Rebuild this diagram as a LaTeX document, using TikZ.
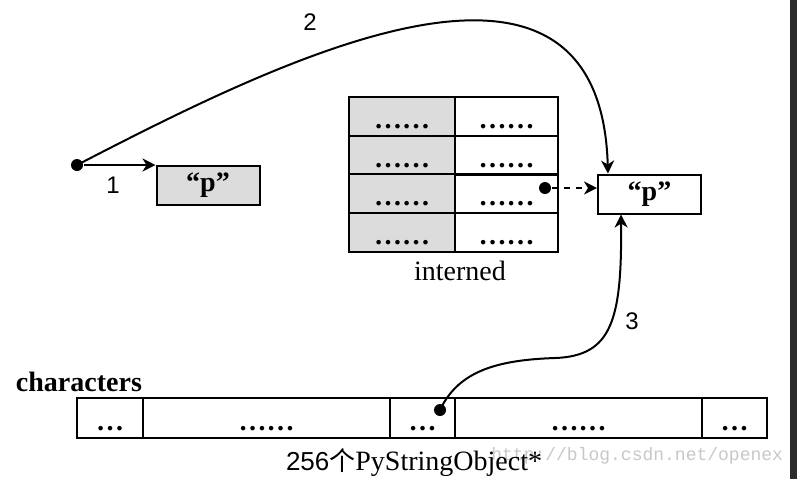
\documentclass[tikz,border=0pt]{standalone}
\usepackage{fontspec}
\setmainfont{Liberation Serif}
\setsansfont{Liberation Sans}
\setmonofont{Liberation Mono}
\newfontfamily\cjk{Noto Sans CJK SC}
\usepackage{tikz}
\usetikzlibrary{arrows.meta}
\definecolor{shade}{RGB}{220, 220, 220}
\definecolor{mark}{RGB}{200, 200, 200}
\definecolor{band}{RGB}{43, 43, 43}

\begin{document}
\begin{tikzpicture}[x=0.5pt, y=-0.5pt, line width=1pt,
  >={Stealth[length=6.5pt, width=6.5pt, inset=2pt]},
  box/.style={draw, minimum width=51.5pt, minimum height=19.5pt, inner sep=0pt,
    font=\fontsize{14}{16}\selectfont\bfseries},
  cell/.style={draw, inner sep=0pt, minimum height=19.5pt, text height=12pt,
    text depth=0pt, font=\fontsize{14}{16}\selectfont\bfseries},
  dot/.style={circle, fill, inner sep=0pt, minimum size=6pt},
  num/.style={font=\sffamily\fontsize{12}{14}\selectfont}]
  \useasboundingbox (0, 0) rectangle (797, 479);
  \fill [white] (0, 0) rectangle (797, 479);
  \fill [band] (790, 0) rectangle (797, 479);

  % the interned table
  \foreach \r in {1,...,4} {
    \node [cell, fill=shade, minimum width=53pt] (k\r) at (402, 77.6+38.75*\r) {……};
    \node [cell, minimum width=51.5pt] (v\r) at (506.5, 77.6+38.75*\r) {……};
  }
  \node [font=\fontsize{14}{16}\selectfont, anchor=base] (interned) at (460, 280) {interned};

  % the two strings
  \node [box, fill=shade] (p1) at (208, 185.5) {“p”};
  \node [box] (p2) at (649.5, 194) {“p”};

  % the characters array
  \node [cell, minimum width=33pt, minimum height=20pt] (c1) at (110, 418) {…};
  \node [cell, minimum width=123.5pt, minimum height=20pt] (c2) at (266.5, 418) {……};
  \node [cell, minimum width=32.5pt, minimum height=20pt] (c3) at (422.5, 418) {…};
  \node [cell, minimum width=123.5pt, minimum height=20pt] (c4) at (578.5, 418) {……};
  \node [cell, minimum width=32.5pt, minimum height=20pt] (c5) at (734.5, 418) {…};
  \node [font=\fontsize{14}{16}\selectfont\bfseries, anchor=base west, inner sep=0pt]
    (chars) at (15, 391) {characters};
  \node [font=\ttfamily\fontsize{9}{10}\selectfont, text=mark, anchor=base east, inner sep=0pt]
    (wm) at (784, 460) {http://blog.csdn.net/openex};
  \node [font=\fontsize{14}{16}\selectfont, anchor=base west, inner sep=0pt] (count) at (285, 470)
    {{\sffamily\fontsize{13}{16}\selectfont 256\cjk 个}PyStringObject*};

  % pointers
  \node [dot] (src) at (77, 165) {};
  \node [dot] (ptr) at (545, 188) {};
  \node [dot] (chr) at (440, 410) {};

  \draw[->] (src) -- (src -| p1.west);
  \draw[->] (src.center) .. controls (280, 60) and (600, -100) .. ([xshift=5.5pt]p2.north west);
  \draw[->, dashed] (ptr) -- (ptr -| p2.west);
  \draw[->] (chr.center) .. controls (458, 372) and (495, 360) .. (555, 358)
    .. controls (612, 356) and (622, 320) .. ([xshift=12pt]p2.south west);

  \node [num] (n1) at (113, 185) {1};
  \node [num] (n2) at (310, 22) {2};
  \node [num] (n3) at (632, 321) {3};
\end{tikzpicture}
\end{document}
